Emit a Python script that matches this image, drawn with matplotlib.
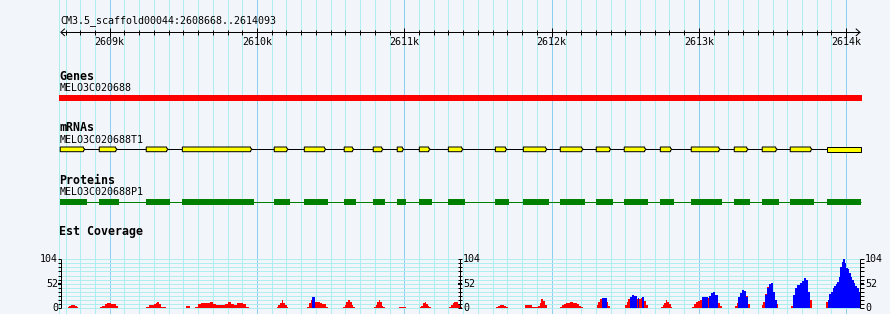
import matplotlib.pyplot as plt
import numpy as np

# region shown
view_start, view_end = 2608668, 2614093
ref_name = 'CM3.5_scaffold00044'
track_titles = ['Genes', 'mRNAs', 'Proteins', 'Est Coverage']
gene_name = 'MELO3C020688'
mrna_name = 'MELO3C020688T1'
protein_name = 'MELO3C020688P1'
gene_span = (2608656, 2614105)

exon_starts = [2608662, 2608927, 2609246, 2609491, 2610115, 2610319, 2610590, 2610787,
               2610950, 2611100, 2611297, 2611616, 2611806, 2612057, 2612301, 2612491,
               2612736, 2612946, 2613238, 2613428, 2613618, 2613870]
exon_ends = [2608844, 2609063, 2609409, 2609979, 2610224, 2610480, 2610670, 2610869,
             2611009, 2611188, 2611412, 2611709, 2611982, 2612227, 2612415, 2612654,
             2612829, 2613157, 2613347, 2613544, 2613781, 2614100]

# EST coverage: (start, end, heights across the block)
cov_max = 104
est_red = [
    (2608715, 2608787, [3, 5, 6, 6, 4, 1.5]),
    (2608934, 2609054, [3, 5, 5, 9, 10, 10, 8.5, 8.5, 8.5, 5]),
    (2609244, 2609380, [3, 3, 6, 6, 6, 8, 11, 13.5, 9, 3, 3, 3]),
    (2609516, 2609547, [3.5, 3.5]),
    (2609579, 2609946, [3, 8, 10, 10, 10, 13, 9, 6, 6, 7, 9, 13, 8, 7, 10, 10, 8, 3]),
    (2610134, 2610212, [3, 6, 11, 18, 11, 6, 2]),
    (2610339, 2610482, [3, 10, 17, 17, 13.5, 13.5, 10, 8, 8, 3]),
    (2610584, 2610665, [2, 6, 12, 18, 12, 6, 2]),
    (2610794, 2610869, [2, 6, 12, 18, 12, 5, 2]),
    (2610964, 2611009, [2, 2]),
    (2611106, 2611181, [2, 5, 10, 12.8, 9, 4, 2]),
    (2611303, 2611390, [2, 6, 11, 12.8, 12, 8, 3]),
    (2611622, 2611702, [2, 5, 7, 7, 5, 2]),
    (2611819, 2611867, [6.4, 6.4]),
    (2611867, 2611907, [2, 2]),
    (2611907, 2611967, [5, 10, 20, 14, 6]),
    (2612057, 2612213, [3, 6, 9, 10, 11, 12, 11, 10, 8, 5, 3]),
    (2612306, 2612396, [6, 13.5, 19, 20, 20, 20, 13.5, 5]),
    (2612498, 2612652, [6, 13.5, 19, 22, 24, 24, 22, 18.5, 20, 22, 22, 15, 6]),
    (2612742, 2612819, [3, 6, 11, 17, 13, 8, 3]),
    (2612951, 2613155, [3, 8, 13, 15, 18, 20.6, 22, 22, 22, 22, 22, 22, 17, 10, 5]),
    (2613245, 2613347, [4, 10, 20, 25, 30, 30, 25, 8]),
    (2613426, 2613535, [6, 13, 30, 45, 50, 50, 35, 17, 8]),
    (2613625, 2613770, [5, 14, 28, 40, 48, 52, 56, 60, 60, 35, 17]),
    (2613863, 2613876, [13]),
]
est_blue = [
    (2610371, 2610394, [23.5]),
    (2612340, 2612374, [22, 22]),
    (2612532, 2612578, [23.5, 27, 26]),
    (2612588, 2612595, [22]),
    (2612611, 2612629, [23.5, 23.5]),
    (2613019, 2613064, [23.5, 23.5, 23.5]),
    (2613068, 2613127, [26, 31, 34, 28]),
    (2613263, 2613331, [24, 33, 39, 36, 24]),
    (2613449, 2613528, [28, 42, 52, 53, 35, 17]),
    (2613641, 2613754, [28, 42, 49, 53, 58, 63, 60, 35]),
    (2613876, 2614094, [17, 30, 35, 42, 46, 52, 56, 67, 88, 98.5, 104, 95.6, 84.6,
                        82.5, 74, 67, 60, 53, 48, 42, 35]),
]

W, H = 890, 314
BPX = 6.789            # bp per pixel
x0 = view_start - 60.8 * BPX
LW = 0.72              # one pixel
mono = 'DejaVu Sans Mono'
bg = '#f2f5fa'
minor_col, major_col = '#aeeef0', '#8ccfee'

fig = plt.figure(figsize=(W / 100, H / 100), dpi=100)
fig.patch.set_facecolor(bg)
ax = fig.add_axes([0, 0, 1, 1])
ax.set_xlim(x0, x0 + W * BPX)
ax.set_ylim(H, 0)
ax.axis('off')

# grid
grid = np.arange(np.ceil(view_start / 100) * 100, view_end + 1, 100)
ax.vlines(grid[grid % 1000 != 0], 0, H, color=minor_col, lw=LW, zorder=0, antialiased=False)
ax.vlines(grid[grid % 1000 == 0], 0, H, color=major_col, lw=LW, zorder=0, antialiased=False)
ax.vlines(view_start - 1.5 * BPX, 0, H, color=minor_col, lw=LW, zorder=0, antialiased=False)

# ruler
ax.text(view_start, 21, f'{ref_name}:{view_start}..{view_end}', family=mono,
        fontsize=7.2, ha='left', va='center')
ax.hlines(32.3, view_start, view_end, color='black', lw=LW)
for xe, d in [(view_start, 1), (view_end, -1)]:
    ax.plot([xe + d * 3.7 * BPX, xe, xe + d * 3.7 * BPX], [29, 32.3, 35.7], color='black', lw=LW)
ticks_minor = grid[grid % 1000 != 0]
ticks_major = grid[grid % 1000 == 0]
ax.vlines(ticks_minor, 30, 34.7, color='black', lw=LW)
ax.vlines(ticks_major, 28, 36.7, color='black', lw=LW)
for t in ticks_major:
    ax.text(t, 42.2, f'{int(t // 1000)}k', family=mono, fontsize=7.2, ha='center', va='center')

# track titles
title_y = [76, 127.5, 180, 232]
for t, y in zip(track_titles, title_y):
    ax.text(view_start - 1.5 * BPX, y, t, family=mono, fontsize=8.4, fontweight='bold',
            ha='left', va='center')
for name, y in [(gene_name, 88), (mrna_name, 140.3), (protein_name, 192.2)]:
    ax.text(view_start - 1 * BPX, y, name, family=mono, fontsize=7.2, ha='left', va='center')

# gene
ax.fill_between(gene_span, 95, 100.7, color='#ff0000', lw=0, zorder=2)

# mRNA
ax.hlines(149.3, exon_starts[0], exon_ends[-1], color='black', lw=LW, zorder=2)
ytop, ybot, ymid = 147, 151.7, 149.35
for i, (s, e) in enumerate(zip(exon_starts, exon_ends)):
    ys = s + 0.3 * BPX
    if i == len(exon_starts) - 1:
        xs = [ys, e, e, ys]
        yy = [ytop, ytop, ybot, ybot]
    else:
        be, te = e - 3.3 * BPX, e - 1.7 * BPX
        xs = [ys, be, be, te, be, be, ys]
        yy = [ytop, ytop, ytop + 1.1, ymid, ybot - 1.1, ybot, ybot]
    ax.fill(xs, yy, facecolor='#ffff00', edgecolor='black', lw=LW, zorder=3)

# protein
ax.hlines(201.5, exon_starts[0], exon_ends[-1], color='#008000', lw=LW, zorder=2)
for s, e in zip(exon_starts, exon_ends):
    ax.fill_between([s, e], 199, 205, color='#008000', lw=0, zorder=3)

# coverage
cov_bottom, cov_top = 308, 259.3
cov = fig.add_axes([0, 1 - cov_bottom / H, 1, (cov_bottom - cov_top) / H])
cov.set_xlim(ax.get_xlim())
cov.set_ylim(0, cov_max)
cov.axis('off')
levels = np.linspace(0, cov_max, 13)
cov.hlines(levels, view_start, view_end, color=minor_col, lw=LW, zorder=0,
           clip_on=False, antialiased=False)
for s, e, h in est_red:
    cov.stairs(h, np.linspace(s, e, len(h) + 1), fill=True, color='#ff0000', lw=0, zorder=2)
for s, e, h in est_blue:
    cov.stairs(h, np.linspace(s, e, len(h) + 1), fill=True, color='#0000ff', lw=0, zorder=3)

mid = (view_start + view_end) / 2
scales = [(view_start, -3.2, 0, -2.7, 'right'),
          (mid, -2.2, 1.3, 2.8, 'left'),
          (view_end, 0, 3.8, 5.0, 'left')]
for xs, a, b, lab, ha in scales:
    cov.vlines(xs, 0, cov_max, color='black', lw=LW, zorder=4, clip_on=False)
    cov.hlines(levels, xs + a * BPX, xs + b * BPX, color='black', lw=LW, zorder=4, clip_on=False)
    cov.hlines(cov_max / 2, xs + a * BPX, xs + b * BPX, color='black', lw=1.5, zorder=4,
               clip_on=False)
    for v in (0, cov_max / 2, cov_max):
        cov.text(xs + lab * BPX, v, f'{int(v)}', family=mono, fontsize=7.2, ha=ha,
                 va='center', clip_on=False)

fig.savefig('out.png', dpi=100, facecolor=bg)
